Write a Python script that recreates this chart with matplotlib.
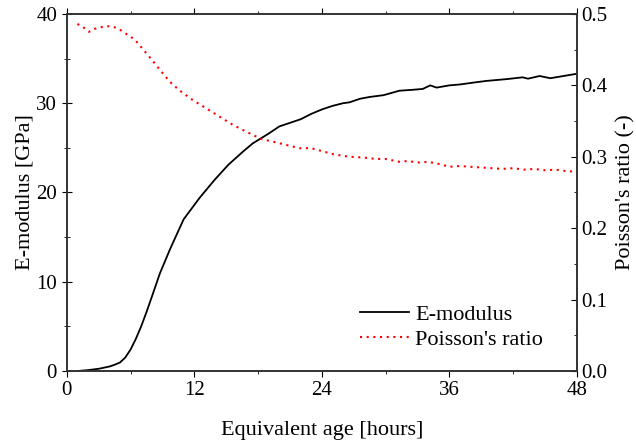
import matplotlib.pyplot as plt
from matplotlib.ticker import MultipleLocator

# Elastic modulus development with equivalent age
age_e = [1, 2, 3, 4, 4.5, 5, 5.5, 6, 6.5, 7, 7.5, 8, 8.75, 9.7, 10.5, 11, 12, 12.5,
         13.9, 15.2, 16.6, 17.5, 19, 20, 21, 22, 23, 24, 25, 26, 26.6, 27.6, 28.5,
         29.8, 31.3, 32.5, 33.5, 34.2, 34.8, 36, 37, 38.2, 39.5, 41.4, 42.9, 43.4,
         44.5, 45.5, 46.5, 48]
e_mod = [0, 0.1, 0.25, 0.5, 0.7, 0.95, 1.5, 2.4, 3.6, 5.0, 6.6, 8.3, 10.9, 13.6, 15.7,
         17.0, 18.6, 19.4, 21.4, 23.1, 24.6, 25.5, 26.6, 27.4, 27.8, 28.2, 28.8, 29.3,
         29.7, 30.0, 30.1, 30.5, 30.7, 30.9, 31.4, 31.5, 31.6, 32.0, 31.75, 32.0, 32.1,
         32.3, 32.5, 32.7, 32.9, 32.75, 33.05, 32.8, 33.0, 33.3]

# Poisson's ratio
age_nu = [1.0, 1.5, 2.1, 2.6, 3.1, 3.7, 4.4, 5.0, 5.5, 6.4, 7.2, 8.0, 8.75, 9.7, 10.6,
          11.9, 13.1, 14.4, 15.6, 16.9, 18.3, 20, 21.9, 23, 24, 25.1, 26.6, 27.9, 29.1,
          30, 31.3, 32, 33.2, 34, 35, 36, 37, 38, 39, 40, 41, 42, 43, 44, 45, 46, 47, 48]
nu = [0.486, 0.482, 0.475, 0.479, 0.481, 0.483, 0.482, 0.478, 0.473, 0.464, 0.450,
      0.436, 0.422, 0.405, 0.393, 0.379, 0.368, 0.356, 0.345, 0.335, 0.325, 0.319,
      0.312, 0.312, 0.308, 0.3035, 0.300, 0.299, 0.297, 0.297, 0.293, 0.294, 0.292,
      0.293, 0.290, 0.286, 0.287, 0.286, 0.285, 0.284, 0.283, 0.284, 0.282, 0.283,
      0.281, 0.282, 0.280, 0.279]

plt.rcParams['font.family'] = ['Liberation Serif', 'DejaVu Serif']
plt.rcParams['font.size'] = 16

fig = plt.figure(figsize=(6.36, 4.43), dpi=100)
ax = fig.add_axes([0.105, 0.1625, 0.802, 0.806])
ax2 = ax.twinx()

l1, = ax.plot(age_e, e_mod, color='black', lw=1.3, label='E-modulus')
l2, = ax2.plot(age_nu, nu, color='red', lw=1.5, ls=(0, (1, 2.2)), label="Poisson's ratio")

ax.set_xlim(0, 48)
ax.set_ylim(0, 40)
ax2.set_ylim(0, 0.5)

ax.xaxis.set_major_locator(MultipleLocator(12))
ax.xaxis.set_minor_locator(MultipleLocator(6))
ax.yaxis.set_major_locator(MultipleLocator(10))
ax.yaxis.set_minor_locator(MultipleLocator(5))
ax2.yaxis.set_major_locator(MultipleLocator(0.1))
ax2.yaxis.set_minor_locator(MultipleLocator(0.05))

ax.tick_params(axis='both', which='major', labelsize=15)
ax2.tick_params(axis='y', which='major', labelsize=15)
ax.tick_params(axis='x', which='both', direction='out', top=True)
ax.tick_params(axis='x', which='major', length=4)
ax.tick_params(axis='x', which='minor', length=2.5)
ax.tick_params(axis='y', which='major', direction='inout', length=7)
ax.tick_params(axis='y', which='minor', direction='inout', length=4)
ax2.tick_params(axis='y', which='major', direction='in', length=4)
ax2.tick_params(axis='y', which='minor', direction='in', length=2.5)

ax.set_xlabel('Equivalent age [hours]', labelpad=15)
ax.set_ylabel('E-modulus [GPa]', labelpad=1)
ax2.set_ylabel("Poisson's ratio (-)", labelpad=6)

for a in (ax, ax2):
    for s in a.spines.values():
        s.set_color('#333333')
        s.set_linewidth(1.2)

ax.legend([l1, l2], ['E-modulus', "Poisson's ratio"], loc='lower left',
          bbox_to_anchor=(0.5745, 0.06), frameon=False, borderpad=0,
          borderaxespad=0, handlelength=2.2, handletextpad=0.3, labelspacing=0.2)

plt.savefig('out.png', dpi=100)
